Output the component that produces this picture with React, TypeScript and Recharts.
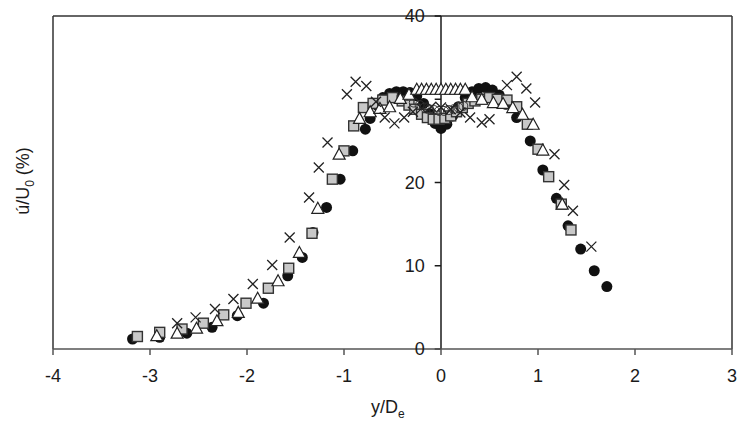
import { ReferenceLine, Scatter, ScatterChart, XAxis, YAxis } from "recharts";

const xTicks = [-4, -3, -2, -1, 0, 1, 2, 3];
const yTickLabels = [
  { v: 0, label: "0" },
  { v: 10, label: "10" },
  { v: 20, label: "20" },
  { v: 30, label: "" },
  { v: 40, label: "40" },
];

const circleX = [-3.18, -2.9, -2.62, -2.36, -2.1, -1.83, -1.58, -1.43, -1.32, -1.18, -1.04, -0.91, -0.78, -0.73, -0.66, -0.6, -0.53, -0.46, -0.39, -0.32, -0.25, -0.18, -0.12, -0.06, 0, 0.06, 0.12, 0.18, 0.25, 0.32, 0.39, 0.46, 0.53, 0.6, 0.67, 0.78, 0.92, 1.05, 1.19, 1.31, 1.44, 1.58, 1.71];
const circleY = [1.2, 1.4, 1.9, 2.6, 4.0, 5.5, 8.8, 11.0, 14.0, 17.0, 20.4, 23.8, 26.4, 27.7, 29.3, 30.2, 30.7, 30.9, 30.9, 30.8, 30.4, 29.5, 28.3, 27.1, 26.5, 27.0, 28.0, 29.1, 30.2, 30.9, 31.3, 31.4, 31.1, 30.5, 29.4, 27.8, 25.0, 21.5, 18.1, 14.8, 12.0, 9.4, 7.5];

const squareX = [-3.13, -2.9, -2.67, -2.45, -2.24, -2.01, -1.78, -1.57, -1.33, -1.12, -1.0, -0.9, -0.8, -0.7, -0.6, -0.5, -0.4, -0.33, -0.27, -0.2, -0.14, -0.08, -0.02, 0.04, 0.1, 0.16, 0.22, 0.28, 0.35, 0.42, 0.5, 0.58, 0.68, 0.78, 0.89, 1.0, 1.11, 1.24, 1.34];
const squareY = [1.5, 2.0, 2.4, 3.1, 4.1, 5.5, 7.3, 9.7, 13.9, 20.4, 23.8, 26.8, 29.0, 29.5, 29.9, 30.2, 29.8, 29.3, 28.8, 28.2, 27.8, 27.6, 27.6, 27.7, 28.0, 28.5, 29.0, 29.5, 29.8, 30.0, 30.2, 30.0, 29.9, 29.1, 27.0, 24.0, 20.7, 17.4, 14.3];

const triX = [-2.93, -2.72, -2.52, -2.31, -2.09, -1.89, -1.68, -1.46, -1.27, -1.05, -0.84, -0.73, -0.63, -0.53, -0.42, -0.33, -0.25, -0.2, -0.15, -0.1, -0.05, 0, 0.05, 0.1, 0.15, 0.2, 0.25, 0.32, 0.42, 0.54, 0.64, 0.74, 0.84, 0.95, 1.05, 1.25];
const triY = [1.6, 1.9, 2.5, 3.4, 4.4, 6.1, 8.2, 11.6, 16.9, 23.4, 27.7, 28.5, 28.9, 29.1, 30.1, 30.6, 31.2, 31.2, 31.2, 31.2, 31.2, 31.2, 31.2, 31.2, 31.2, 31.2, 31.2, 30.3, 30.0, 29.6, 29.5, 29.0, 28.2, 27.0, 23.9, 17.4];

const crossX = [-2.72, -2.53, -2.33, -2.14, -1.94, -1.74, -1.56, -1.36, -1.26, -1.17, -0.97, -0.88, -0.77, -0.67, -0.58, -0.48, -0.38, -0.29, -0.2, -0.1, 0, 0.1, 0.2, 0.3, 0.42, 0.5, 0.68, 0.78, 0.88, 0.97, 1.17, 1.27, 1.36, 1.55];
const crossY = [3.1, 3.8, 4.8, 6.0, 7.8, 10.1, 13.4, 18.2, 21.8, 24.8, 30.6, 32.1, 31.6, 29.7, 27.8, 27.1, 27.8, 28.5, 28.9, 29.1, 29.0, 28.8, 28.4, 27.8, 27.2, 27.6, 31.7, 32.7, 31.3, 29.6, 23.4, 19.7, 16.6, 12.3];

const ringX = [-0.28, -0.22, -0.17, -0.12, -0.07, -0.02, 0.03, 0.08, 0.13, 0.18, 0.23];
const ringY = [29.6, 29.3, 29.0, 28.8, 28.7, 28.6, 28.6, 28.7, 28.8, 29.0, 29.2];

const zip = (xs: number[], ys: number[]) => xs.map((x, i) => ({ x, y: ys[i] }));

const font = "'Liberation Sans', Arial, Helvetica, sans-serif";
const ink = "#1a1a1a";

const Dot = (p: any) => <circle cx={p.cx} cy={p.cy} r={5.5} fill="#111" />;
const Square = (p: any) => (
  <rect x={p.cx - 5} y={p.cy - 5} width={10} height={10} fill="#c8c8c8" stroke="#333" strokeWidth={1.4} />
);
const Tri = (p: any) => (
  <path
    d={`M${p.cx},${p.cy - 6} L${p.cx + 6},${p.cy + 5} L${p.cx - 6},${p.cy + 5} Z`}
    fill="#fff"
    stroke="#222"
    strokeWidth={1.2}
  />
);
const XMark = (p: any) => (
  <path
    d={`M${p.cx - 5},${p.cy - 5} L${p.cx + 5},${p.cy + 5} M${p.cx + 5},${p.cy - 5} L${p.cx - 5},${p.cy + 5}`}
    stroke="#222"
    strokeWidth={1.3}
  />
);
const Ring = (p: any) => <circle cx={p.cx} cy={p.cy} r={4.5} fill="none" stroke="#333" strokeWidth={1} />;

export default function App() {
  return (
    <div style={{ position: "absolute", left: 0, top: 0, width: 739, height: 426, fontFamily: font, background: "#fff" }}>
      <ScatterChart width={739} height={426} margin={{ top: 16, right: 7, left: 53, bottom: 0 }}>
        <XAxis
          type="number"
          dataKey="x"
          domain={[-4, 3]}
          ticks={xTicks}
          interval={0}
          height={77}
          tickSize={6}
          tickMargin={14}
          axisLine={{ stroke: "#555", strokeWidth: 1.5 }}
          tickLine={{ stroke: "#555", strokeWidth: 1.5 }}
          tick={{ fontSize: 18, fill: ink, fontFamily: font }}
        />
        <YAxis type="number" dataKey="y" domain={[0, 40]} hide />
        <ReferenceLine y={40} stroke="#333" strokeWidth={1.5} />
        <ReferenceLine x={-4} stroke="#333" strokeWidth={1.5} />
        <ReferenceLine x={3} stroke="#333" strokeWidth={1.5} />
        <ReferenceLine x={0} stroke={ink} strokeWidth={1.5} />
        {yTickLabels.map((t) => (
          <ReferenceLine
            key={t.v}
            segment={[
              { x: -0.065, y: t.v },
              { x: 0, y: t.v },
            ]}
            stroke={ink}
            strokeWidth={1.5}
            label={{ value: t.label, position: "left", offset: 10, fontSize: 18, fill: ink, fontFamily: font }}
          />
        ))}
        <Scatter data={zip(circleX, circleY)} shape={Dot} isAnimationActive={false} />
        <Scatter data={zip(squareX, squareY)} shape={Square} isAnimationActive={false} />
        <Scatter data={zip(ringX, ringY)} shape={Ring} isAnimationActive={false} />
        <Scatter data={zip(triX, triY)} shape={Tri} isAnimationActive={false} />
        <Scatter data={zip(crossX, crossY)} shape={XMark} isAnimationActive={false} />
      </ScatterChart>
      <div style={{ position: "absolute", left: 371, top: 397, fontSize: 18, color: ink, whiteSpace: "nowrap" }}>
        y/D<sub style={{ fontSize: 12 }}>e</sub>
      </div>
      <div
        style={{
          position: "absolute",
          left: 25,
          top: 181,
          transform: "translate(-50%, -50%) rotate(-90deg)",
          fontSize: 18,
          color: ink,
          whiteSpace: "nowrap",
        }}
      >
        ú/U<sub style={{ fontSize: 12 }}>0</sub> (%)
      </div>
    </div>
  );
}
